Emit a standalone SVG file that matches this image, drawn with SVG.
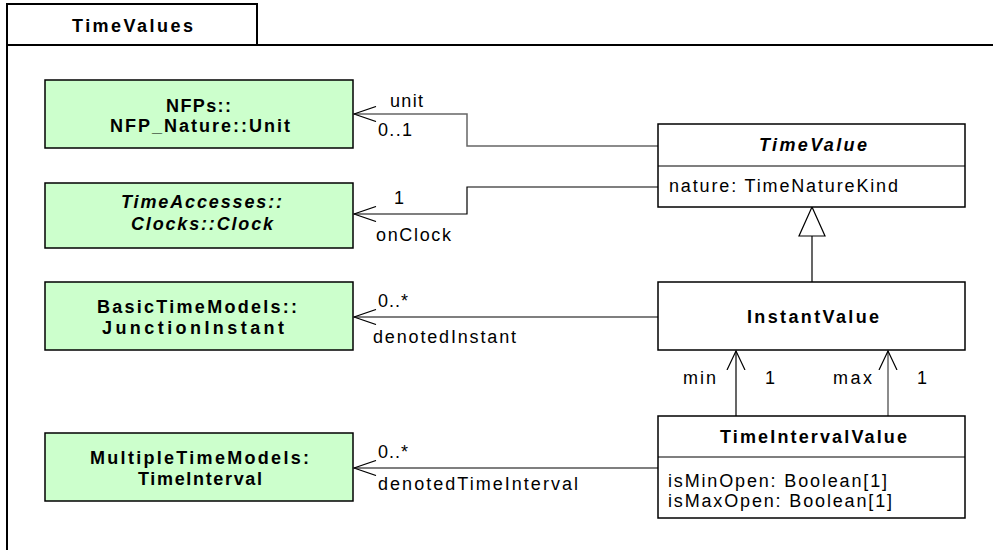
<svg xmlns="http://www.w3.org/2000/svg" width="993" height="550" viewBox="0 0 993 550">
<style>
text{font-family:"Liberation Sans",Arial,sans-serif;font-size:18px;fill:#000}
.b{font-weight:bold}
.bi{font-weight:bold;font-style:italic}
.ext{fill:#ccffcc;stroke:#000;stroke-width:1.5}
.cls{fill:#fff;stroke:#000;stroke-width:1.5}
.ln{fill:none;stroke:#000;stroke-width:1.2}
.gr{fill:none;stroke:#666;stroke-width:1.5}
.frame{fill:none;stroke:#000;stroke-width:2}
</style>
<defs>
<marker id="open" viewBox="0 0 24 16" refX="23" refY="8" markerWidth="24" markerHeight="16" markerUnits="userSpaceOnUse" orient="auto">
<path d="M1,0.5 L23,8 L1,15.5" fill="none" stroke="#000" stroke-width="1.2"/>
</marker>
<marker id="openv" viewBox="0 0 20 20" refX="10" refY="1" markerWidth="20" markerHeight="20" markerUnits="userSpaceOnUse" orient="0">
<path d="M1,20 L10,1 L19,20" fill="none" stroke="#000" stroke-width="1.2"/>
</marker>
</defs>
<rect width="993" height="550" fill="#fff"/>
<g id="package">
<rect class="frame" x="7" y="45" width="1000" height="520"/>
<rect class="frame" x="7" y="4" width="250" height="41" fill="#fff"/>
<text class="b" x="72" y="32" textLength="121" lengthAdjust="spacing">TimeValues</text>
</g>
<g id="connectors">
<polyline class="gr" points="658,146 467,146 467,114 354,114" marker-end="url(#open)"/>
<polyline class="ln" points="658,187 467,187 467,214 354,214" marker-end="url(#open)"/>
<line class="ln" x1="658" y1="317" x2="354" y2="317" marker-end="url(#open)"/>
<line class="ln" x1="658" y1="468" x2="354" y2="468" marker-end="url(#open)"/>
<line class="ln" x1="812" y1="282" x2="812" y2="236"/>
<polygon points="812,207 799,236 825,236" fill="#fff" stroke="#000" stroke-width="1.2"/>
<line class="ln" x1="736" y1="416" x2="736" y2="351" marker-end="url(#openv)"/>
<line class="gr" x1="888" y1="416" x2="888" y2="351" marker-end="url(#openv)"/>
<text x="390" y="107" textLength="33" lengthAdjust="spacing">unit</text>
<text x="378" y="136" textLength="34" lengthAdjust="spacing">0..1</text>
<text x="394" y="204">1</text>
<text x="376" y="241" textLength="75" lengthAdjust="spacing">onClock</text>
<text x="378" y="307" textLength="30" lengthAdjust="spacing">0..*</text>
<text x="373" y="343" textLength="143" lengthAdjust="spacing">denotedInstant</text>
<text x="378" y="458" textLength="30" lengthAdjust="spacing">0..*</text>
<text x="378" y="490" textLength="200" lengthAdjust="spacing">denotedTimeInterval</text>
<text x="683" y="384" textLength="33" lengthAdjust="spacing">min</text>
<text x="765" y="384">1</text>
<text x="833" y="384" textLength="39" lengthAdjust="spacing">max</text>
<text x="917" y="384">1</text>
</g>
<g id="unit">
<rect class="ext" x="45" y="80" width="308" height="68"/>
<text class="b" x="166" y="112" textLength="65" lengthAdjust="spacing">NFPs::</text>
<text class="b" x="110" y="132" textLength="180" lengthAdjust="spacing">NFP_Nature::Unit</text>
</g>
<g id="clock">
<rect class="ext" x="45" y="183" width="308" height="65"/>
<text class="bi" x="121" y="208" textLength="161" lengthAdjust="spacing">TimeAccesses::</text>
<text class="bi" x="131" y="230" textLength="142" lengthAdjust="spacing">Clocks::Clock</text>
</g>
<g id="junctionInstant">
<rect class="ext" x="45" y="282" width="308" height="68"/>
<text class="b" x="97" y="313" textLength="200" lengthAdjust="spacing">BasicTimeModels::</text>
<text class="b" x="102" y="334" textLength="182" lengthAdjust="spacing">JunctionInstant</text>
</g>
<g id="timeInterval">
<rect class="ext" x="45" y="433" width="308" height="68"/>
<text class="b" x="90" y="464" textLength="219" lengthAdjust="spacing">MultipleTimeModels:</text>
<text class="b" x="138" y="485" textLength="124" lengthAdjust="spacing">TimeInterval</text>
</g>
<g id="timeValue">
<rect class="cls" x="658" y="124" width="307" height="83"/>
<line class="ln" x1="658" y1="166" x2="965" y2="166"/>
<text class="bi" x="759" y="151" textLength="108" lengthAdjust="spacing">TimeValue</text>
<text x="669" y="192" textLength="229" lengthAdjust="spacing">nature: TimeNatureKind</text>
</g>
<g id="instantValue">
<rect class="cls" x="658" y="282" width="307" height="68"/>
<text class="b" x="747" y="323" textLength="132" lengthAdjust="spacing">InstantValue</text>
</g>
<g id="timeIntervalValue">
<rect class="cls" x="658" y="416" width="307" height="102"/>
<line class="ln" x1="658" y1="457" x2="965" y2="457"/>
<text class="b" x="720" y="443" textLength="187" lengthAdjust="spacing">TimeIntervalValue</text>
<text x="668" y="487" textLength="219" lengthAdjust="spacing">isMinOpen: Boolean[1]</text>
<text x="668" y="507" textLength="224" lengthAdjust="spacing">isMaxOpen: Boolean[1]</text>
</g>
</svg>
